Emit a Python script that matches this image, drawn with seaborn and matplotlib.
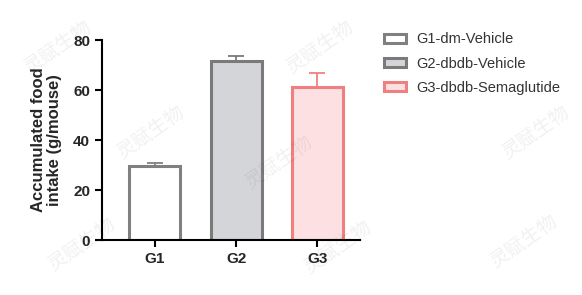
import matplotlib
matplotlib.use("Agg")
import matplotlib.pyplot as plt
import seaborn as sns
import pandas as pd
from matplotlib.patches import Patch

groups = ["G1", "G2", "G3"]
legend_labels = ["G1-dm-Vehicle", "G2-dbdb-Vehicle", "G3-dbdb-Semaglutide"]
means = [29.7, 71.7, 61.3]
errors = [1.0, 1.9, 5.6]
fills = ["#ffffff", "#d4d5d9", "#fde0e2"]
edges = ["#808080", "#7a7a7a", "#ef8080"]

sns.set_theme(style="white")
plt.rcParams['font.family'] = ['Liberation Sans', 'DejaVu Sans']

df = pd.DataFrame({"group": groups, "value": means})

fig = plt.figure(figsize=(5.82, 2.95), dpi=100)
ax = fig.add_axes([0.175, 0.186, 0.444, 0.678])

sns.barplot(data=df, x="group", y="value", hue="group", palette=fills,
            saturation=1, width=0.63, legend=False, ax=ax)
for p, ec in zip(ax.patches, edges):
    p.set_edgecolor(ec)
    p.set_linewidth(2.2)
for i, (m, e, ec) in enumerate(zip(means, errors, edges)):
    ax.errorbar(i, m, yerr=[[0], [e]], fmt="none", ecolor=ec, elinewidth=1.3,
                capsize=6, capthick=1.3, zorder=1)

ax.set_xlim(-0.654, 2.53)
ax.set_ylim(0, 80)
ax.set_yticks([0, 20, 40, 60, 80])
ax.set_xlabel("")
ax.set_ylabel("Accumulated food\nintake (g/mouse)", fontsize=12, fontweight="bold",
              labelpad=8, linespacing=1.1)
for s in ["top", "right"]:
    ax.spines[s].set_visible(False)
for s in ["left", "bottom"]:
    ax.spines[s].set_color("black")
    ax.spines[s].set_linewidth(1.5)
ax.tick_params(axis="both", which="both", direction="out", length=5, width=1.5,
               color="black", labelsize=11, left=True, bottom=True)
for t in ax.get_xticklabels() + ax.get_yticklabels():
    t.set_fontweight("bold")

handles = [Patch(facecolor=f, edgecolor=e, linewidth=2.2) for f, e in zip(fills, edges)]
fig.legend(handles, legend_labels, loc="upper left", bbox_to_anchor=(0.638, 0.935),
           frameon=False, fontsize=10.5, handlelength=1.5, handleheight=0.55,
           labelspacing=0.7, handletextpad=0.7, labelcolor="#333333")

# faint watermark
for (x, y) in [(0.10, 0.84), (0.55, 0.84), (0.92, 0.55), (0.26, 0.55), (0.48, 0.45),
               (0.14, 0.17), (0.58, 0.16), (0.90, 0.18)]:
    fig.text(x, y, "灵赋生物", rotation=35, fontsize=14, color="#000000", alpha=0.06,
             family=["Noto Sans CJK SC", "DejaVu Sans"], ha="center", va="center")

fig.savefig("out.png", dpi=100)
